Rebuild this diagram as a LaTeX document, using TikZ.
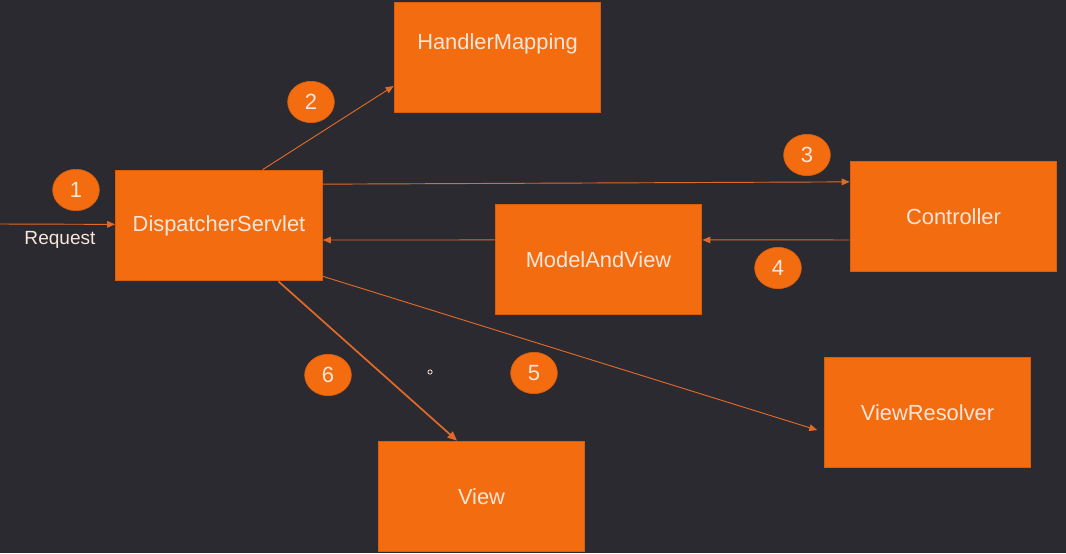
\documentclass[tikz,border=0pt]{standalone}
\usepackage{fontspec}
\setmainfont{Liberation Sans}
\usetikzlibrary{shapes.geometric,arrows.meta,calc}
\definecolor{bg}{HTML}{2B2A30}
\definecolor{boxfill}{HTML}{F46C10}
\definecolor{boxline}{HTML}{D85E0C}
\definecolor{arrowc}{HTML}{E0692A}
\definecolor{txt}{HTML}{F8E6DA}
\tikzset{
  boxtext/.style={text=txt, font=\fontsize{16.4}{18}\selectfont},
  box/.style={draw=boxline, line width=0.8pt, fill=boxfill, minimum width=155pt, minimum height=83pt, inner sep=0pt, boxtext},
  badge/.style={ellipse, fill=boxfill, draw=boxline, line width=0.5pt, minimum width=35pt, minimum height=31pt, inner sep=0pt, text=txt, font=\fontsize{16.5}{18}\selectfont},
  conn/.style={draw=arrowc, line width=0.7pt, -{Triangle[length=6pt,width=5pt]}},
}
\begin{document}
\begin{tikzpicture}[x=0.75pt,y=-0.75pt]
\fill[bg] (0,0) rectangle (1066,553);
\useasboundingbox (0,0) rectangle (1066,553);

\node[box] (HM) at (497.5,57.5) {};
\node[boxtext] (HMt) at (497.5,44) {HandlerMapping};
\node[box] (DS) at (219,225.5) {DispatcherServlet};
\node[box] (CT) at (953.5,216.5) {Controller};
\node[box] (MV) at (598.5,259.5) {ModelAndView};
\node[box] (VR) at (927.5,412.5) {ViewResolver};
\node[box] (VW) at (481.5,496.5) {View};

\node[badge] (b1) at (76,190) {1};
\node[badge] (b2) at (311,102) {2};
\node[badge] (b3) at (807,155) {3};
\node[badge] (b4) at (778,268) {4};
\node[badge] (b5) at (534,373) {5};
\node[badge] (b6) at (328,375) {6};

\coordinate (in) at (0,224);
\node[text=txt, font=\fontsize{14.3}{16}\selectfont] (req) at (60,240) {Request};

\draw[conn] (in) -- ($(DS.north west)!0.49!(DS.south west)$);
\draw[conn] ($(DS.north west)!0.71!(DS.north east)$) -- ($(HM.north west)!0.755!(HM.south west)$);
\draw[conn] ($(DS.north east)!0.13!(DS.south east)$) -- ($(CT.north west)!0.19!(CT.south west)$);
\draw[conn] ($(CT.north west)!0.71!(CT.south west)$) -- ($(MV.north east)!0.325!(MV.south east)$);
\draw[conn] ($(MV.north west)!0.325!(MV.south west)$) -- ($(DS.north east)!0.63!(DS.south east)$);
\draw[conn, shorten >=5pt] ($(DS.north east)!0.955!(DS.south east)$) -- ($(VR.north west)!0.675!(VR.south west)$);
\draw[conn, line width=1.3pt, -{Triangle[length=7pt,width=6pt]}] ($(DS.south west)!0.786!(DS.south east)$) -- ($(VW.north west)!0.382!(VW.north east)$);

\draw[draw=txt!80!pink, line width=0.6pt, fill=bg] (430,372) circle (1.6pt);
\end{tikzpicture}
\end{document}
